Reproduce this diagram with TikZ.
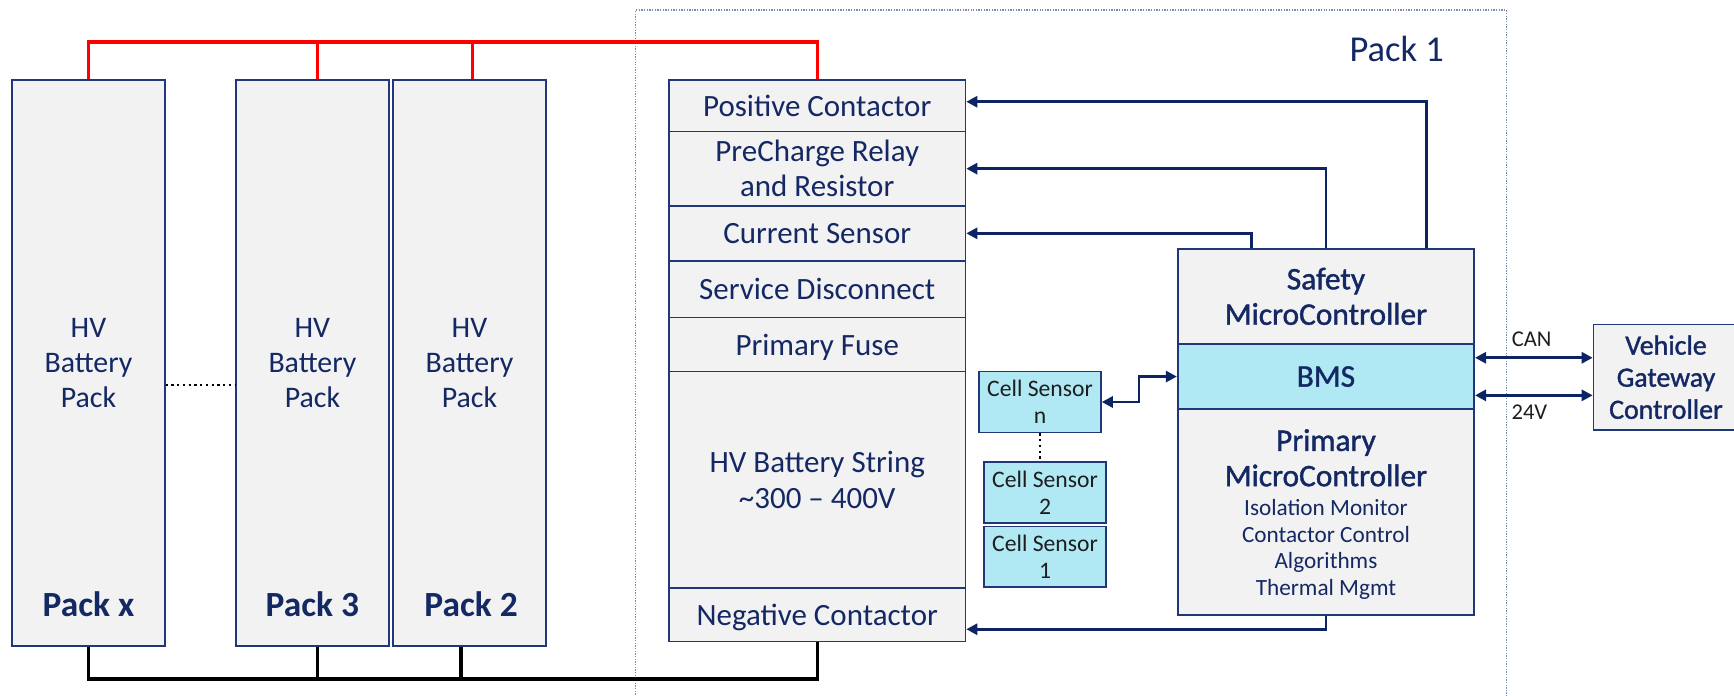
\documentclass[tikz,border=0pt]{standalone}
\usepackage{fontspec}
\setmainfont{Carlito}
\newfontfamily\medfont{Carlito}[FakeBold=1.3]
\usetikzlibrary{arrows.meta}
\definecolor{navy}{RGB}{20,40,100}
\definecolor{bordc}{RGB}{32,56,120}
\definecolor{arrc}{RGB}{12,36,100}
\definecolor{grayf}{RGB}{242,242,242}
\definecolor{bluef}{RGB}{176,232,244}
\definecolor{framec}{RGB}{120,140,180}
\definecolor{redc}{RGB}{255,0,0}
\definecolor{txtdark}{RGB}{30,30,30}
\begin{document}
\begin{tikzpicture}[x=0.5pt,y=-0.5pt,
  box/.style={draw=bordc,fill=grayf,line width=0.8pt,inner sep=0pt,align=center,text=navy,font=\fontsize{14}{16}\selectfont},
  packbox/.style={box,minimum width=69pt,minimum height=256pt,font=\fontsize{13.5}{15.75}\selectfont},
  stackbox/.style={box,minimum width=134pt},
  ctrlbox/.style={box,minimum width=134pt,font=\medfont\fontsize{14.2}{16}\selectfont},
  cellbox/.style={box,fill=bluef,text=txtdark,font=\fontsize{10.7}{12.3}\selectfont,minimum width=55pt,minimum height=27.5pt},
  packlbl/.style={text=navy,font=\bfseries\fontsize{16}{18}\selectfont,inner sep=0pt},
  txtsmall/.style={text=txtdark,font=\fontsize{10.2}{12}\selectfont,inner sep=0pt},
  redbus/.style={draw=redc,line width=1.5pt},
  blackbus/.style={draw=black,line width=1.5pt},
  arr/.style={draw=arrc,line width=1.3pt,-{Triangle[length=5pt,width=5pt]}},
  darr/.style={draw=arrc,line width=1.3pt,{Triangle[length=5pt,width=5pt]}-{Triangle[length=5pt,width=5pt]}},
  dotline/.style={draw=black,line width=1.1pt,dash pattern=on 1pt off 1.6pt},
  framel/.style={draw=framec,line width=0.5pt,dash pattern=on 0.6pt off 0.6pt}
]
\useasboundingbox (0,0) rectangle (1568,628.5);

% Pack 1 frame
\draw[framel] (575,640) -- (575,9) -- (1362,9) -- (1362,640);
\node[text=navy,font=\fontsize{16.5}{18}\selectfont,inner sep=0pt] (p1) at (1263,44) {Pack 1};

% left packs
\node[packbox] (packx) at (80,328) {HV\\Battery\\Pack};
\node[packbox] (pack3) at (282.5,328) {HV\\Battery\\Pack};
\node[packbox] (pack2) at (424.5,328) {HV\\Battery\\Pack};
\node[packlbl] (lx) at (80,546) {Pack x};
\node[packlbl] (l3) at (282.5,546) {Pack 3};
\node[packlbl] (l2) at (426,546) {Pack 2};

% stack
\node[stackbox,minimum height=23.5pt] (pos) at (739,95.5) {Positive Contactor};
\node[stackbox,minimum height=33.5pt] (pre) at (739,152.5) {PreCharge Relay\\and Resistor};
\node[stackbox,minimum height=25pt] (cur) at (739,211) {Current Sensor};
\node[stackbox,minimum height=25.5pt] (svc) at (739,261.5) {Service Disconnect};
\node[stackbox,minimum height=24.5pt,text depth=0pt] (fuse) at (739,311.5) {Primary Fuse};
\node[stackbox,minimum height=98pt] (str) at (739,434) {HV Battery String\\\textasciitilde 300 – 400V};
\node[stackbox,minimum height=24pt,text depth=0pt] (neg) at (739,556) {Negative Contactor};

% controllers
\node[ctrlbox,minimum height=43pt] (safety) at (1199,268) {Safety\\MicroController};
\node[ctrlbox,minimum height=29.5pt,fill=bluef] (bms) at (1199,340.5) {BMS};
\node[ctrlbox,minimum height=93pt] (prim) at (1199,463) {};
\node[text=navy,font=\medfont\fontsize{14.2}{16}\selectfont,align=center,inner sep=0pt] (primt) at (1199,414) {Primary\\MicroController};
\node[text=navy,font=\fontsize{10.5}{12}\selectfont,align=center,inner sep=0pt] (primd) at (1199,497) {Isolation Monitor\\Contactor Control\\Algorithms\\Thermal Mgmt};

% cell sensors
\node[cellbox] (celln) at (940.5,363.5) {Cell Sensor\\n};
\node[cellbox] (cell2) at (945,445.5) {Cell Sensor\\2};
\node[cellbox] (cell1) at (945,503.5) {Cell Sensor\\1};

% gateway
\node[box,minimum width=65.5pt,minimum height=47.5pt,font=\medfont\fontsize{12.6}{14.5}\selectfont] (gw) at (1506.5,341) {Vehicle\\Gateway\\Controller};

% buses
\coordinate (rt) at (0,38);
\coordinate (bt) at (0,614);
\coordinate (b3) at (287,0);
\coordinate (b2) at (417,0);
\coordinate (r2) at (427,0);
\draw[redbus] (packx.north) -- (packx.north |- rt) -- (pos.north |- rt) -- (pos.north);
\draw[redbus] (pack3.north -| b3) -- (b3 |- rt);
\draw[redbus] (pack2.north -| r2) -- (r2 |- rt);
\draw[blackbus] (packx.south) -- (packx.south |- bt) -- (neg.south |- bt) -- (neg.south);
\draw[blackbus] (pack3.south -| b3) -- (b3 |- bt);
\draw[blackbus] (pack2.south -| b2) -- (b2 |- bt);

% dotted
\coordinate (dl) at (0,348);
\draw[dotline] (packx.east |- dl) -- (pack3.west |- dl);
\draw[dotline] (celln.south) -- (celln.south |- cell2.north);

% control arrows
\coordinate (s1) at (1290,0);
\coordinate (s3) at (1132,0);
\draw[arr] (safety.north -| s1) |- ([yshift=1.75pt]pos.east);
\draw[arr] (safety.north) |- (pre.east);
\draw[arr] (safety.north -| s3) |- (cur.east);
\draw[arr] (prim.south) |- ([yshift=-6.5pt]neg.east);

% cell sensor link
\coordinate (cm) at (1030,0);
\draw[darr] (celln.east) -- (celln.east -| cm) |- (bms.west);

% CAN / 24V
\draw[darr] ([yshift=8.5pt]bms.east) -- ([yshift=8.5pt]bms.east -| gw.west);
\draw[darr] ([yshift=-8.5pt]bms.east) -- ([yshift=-8.5pt]bms.east -| gw.west);
\node[txtsmall] (canl) at (1385,307) {CAN};
\node[txtsmall] (v24) at (1383,373) {24V};
\end{tikzpicture}
\end{document}
